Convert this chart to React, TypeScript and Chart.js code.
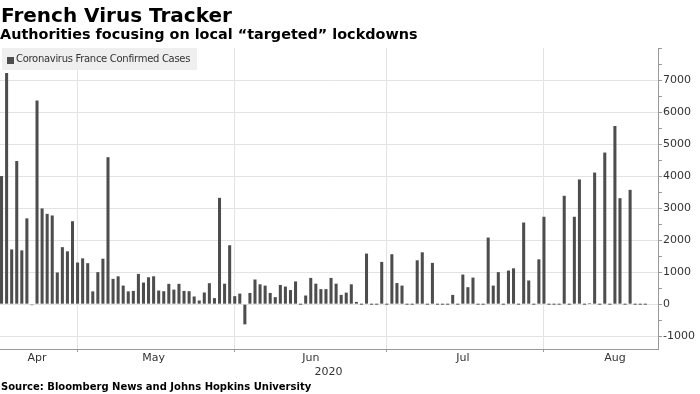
import React, { useEffect, useRef } from 'react';
import { Chart, registerables } from 'chart.js';

Chart.register(...registerables);

// ---- data ----
const startDate = '2020-04-16';
const aprCases = [4000, 7220, 1710, 4470, 1680, 2680, -30, 6360, 2990, 2820, 2770, 990, 1780, 1650, 2590];
const mayCases = [1300, 1430, 1280, 400, 1000, 1420, 4590, 790, 870, 580, 400, 415, 945, 675, 840, 870, 425, 405, 635, 455, 635, 415, 405, 240, 115, 365, 655, 190, 3320, 640, 1840];
const junCases = [250, 330, -630, 350, 770, 620, 580, 350, 220, 600, 550, 440, 710, 0, 270, 820, 640, 470, 470, 820, 640, 290, 360, 620, 70, 0, 1580, 0, 0, 1320];
const julCases = [0, 1560, 660, 580, 0, 0, 1370, 1620, 0, 1290, 0, 0, 0, 290, 0, 925, 530, 830, 0, 0, 2080, 580, 1000, 0, 1050, 1120, 0, 2550, 740, 0, 1400];
const augCases: (number | null)[] = [2730, 0, 0, 0, 3385, 0, 2730, 3895, 0, 30, 4110, 0, 4735, 0, 5565, 3310, 0, 3570, 0, 0, 0, null, null];
const seriesName = 'Coronavirus France Confirmed Cases';
const monthLabels = ['Apr', 'May', 'Jun', 'Jul', 'Aug'];
const monthLabelDates = ['2020-04-23', '2020-05-16', '2020-06-16', '2020-07-16', '2020-08-15'];
const yearLabel = '2020';
const yTickValues = [-1000, -500, 0, 500, 1000, 1500, 2000, 2500, 3000, 3500, 4000, 4500, 5000, 5500, 6000, 6500, 7000, 7500, 8000];
const yLabelValues = [-1000, 0, 1000, 2000, 3000, 4000, 5000, 6000, 7000];
const yMin = -1400;
const yMax = 8000;

const titleText = 'French Virus Tracker';
const subtitleText = 'Authorities focusing on local \u201ctargeted\u201d lockdowns';
const sourceText = 'Source: Bloomberg News and Johns Hopkins University';

function buildDates(start: string, n: number): string[] {
  const [y, m, d] = start.split('-').map(Number);
  const out: string[] = [];
  for (let i = 0; i < n; i++) {
    const dt = new Date(Date.UTC(y, m - 1, d + i));
    out.push(dt.toISOString().slice(0, 10));
  }
  return out;
}

const FONT = '"DejaVu Sans", Verdana, sans-serif';

export default function App() {
  const ref = useRef<HTMLCanvasElement>(null);
  useEffect(() => {
    const cases = [...aprCases, ...mayCases, ...junCases, ...julCases, ...augCases];
    const dates = buildDates(startDate, cases.length);
    const isMonthStart = (i: number) => !!dates[i] && dates[i].endsWith('-01');
    const chart = new Chart(ref.current!, {
      type: 'bar',
      data: {
        labels: dates,
        datasets: [
          {
            label: seriesName,
            data: cases,
            backgroundColor: '#4d4d4d',
            barPercentage: 0.6,
            categoryPercentage: 1,
            minBarLength: 1,
          },
        ],
      },
      options: {
        animation: false,
        responsive: false,
        devicePixelRatio: 1,
        layout: { padding: { top: 48, right: 0, bottom: 15, left: 0 } },
        plugins: { legend: { display: false }, tooltip: { enabled: false } },
        scales: {
          x: {
            grid: {
              offset: false,
              color: (ctx: any) => (isMonthStart(ctx.index) ? '#e3e3e3' : 'rgba(0,0,0,0)'),
              tickColor: (ctx: any) => (isMonthStart(ctx.index) ? '#999' : 'rgba(0,0,0,0)'),
              tickLength: 3,
            },
            border: { display: true, color: '#999' },
            ticks: {
              autoSkip: false,
              maxRotation: 0,
              minRotation: 0,
              padding: 0,
              color: '#333',
              font: { family: FONT, size: 11 },
              callback: (_v: any, i: number) => {
                const k = monthLabelDates.indexOf(dates[i]);
                return k >= 0 ? monthLabels[k] : '';
              },
            },
            title: { display: true, text: yearLabel, color: '#333', font: { family: FONT, size: 11 }, padding: 0 },
            afterFit: (s: any) => {
              s.height = 30;
            },
          },
          y: {
            position: 'right',
            min: yMin,
            max: yMax,
            afterBuildTicks: (s: any) => {
              s.ticks = yTickValues.map((v) => ({ value: v }));
            },
            afterFit: (s: any) => {
              s.width = 42;
            },
            grid: {
              color: (ctx: any) => (ctx.tick && yLabelValues.includes(ctx.tick.value) ? '#e3e3e3' : 'rgba(0,0,0,0)'),
              tickColor: '#999',
              tickLength: 4,
            },
            border: { display: true, color: '#999' },
            ticks: {
              padding: 1,
              color: '#333',
              font: { family: FONT, size: 11 },
              callback: (v: any) => (yLabelValues.includes(Number(v)) ? String(v) : ''),
            },
          },
        },
      },
    } as any);
    return () => chart.destroy();
  }, []);

  return (
    <div style={{ position: 'absolute', left: 0, top: 0, width: 700, height: 394, background: '#fff', overflow: 'hidden' }}>
      <canvas ref={ref} width={701} height={394} style={{ position: 'absolute', left: -1, top: 0, width: 701, height: 394 }} />
      <div style={{ position: 'absolute', left: 1, top: 4, font: `bold 20px ${FONT}`, lineHeight: '22px', color: '#000', whiteSpace: 'nowrap' }}>
        {titleText}
      </div>
      <div style={{ position: 'absolute', left: 0, top: 27, font: `bold 14.4px ${FONT}`, lineHeight: '15px', color: '#000', whiteSpace: 'nowrap' }}>
        {subtitleText}
      </div>
      <div style={{ position: 'absolute', left: 2, top: 48, width: 195, height: 22, background: '#efefef' }}>
        <div style={{ position: 'absolute', left: 5, top: 9, width: 7, height: 7, background: '#4d4d4d' }} />
        <div style={{ position: 'absolute', left: 14, top: 5, font: `10px ${FONT}`, lineHeight: '12px', letterSpacing: '-0.3px', color: '#333', whiteSpace: 'nowrap' }}>
          {seriesName}
        </div>
      </div>
      <div style={{ position: 'absolute', left: 1, top: 381, font: `bold 10px ${FONT}`, lineHeight: '12px', color: '#000', whiteSpace: 'nowrap' }}>
        {sourceText}
      </div>
    </div>
  );
}
